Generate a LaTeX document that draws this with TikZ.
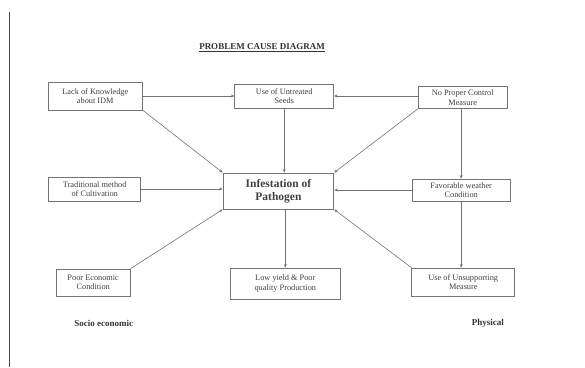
\documentclass[tikz,border=0pt]{standalone}
\usepackage{fontspec}
\setmainfont{Liberation Serif}
\usetikzlibrary{arrows.meta}
\begin{document}
\begin{tikzpicture}[x=1pt,y=-1pt,
  box/.style={draw=black!55, line width=0.7pt, align=center, text=black!75,
    font=\fontsize{8.3}{9.5}\selectfont, inner sep=0.5pt},
  conn/.style={draw=black!55, line width=0.6pt, -{Stealth[length=3.5pt,width=3pt]}},
  lbl/.style={font=\bfseries\fontsize{9}{10}\selectfont, text=black!80}]
\useasboundingbox[fill=white] (0,0) rectangle (585,367);
\draw[black!70, line width=1.8pt] (9.4,12) -- (9.4,367);
\node[lbl, font=\bfseries\fontsize{9}{10}\selectfont] (title) at (262,48) {\underline{PROBLEM CAUSE DIAGRAM}};
\node[box, minimum width=94.5pt, minimum height=28pt] (lack) at (95.3,96) {Lack of Knowledge\\about IDM};
\node[box, minimum width=99pt, minimum height=24pt] (seed) at (284.2,96) {Use of Untreated\\Seeds};
\node[box, minimum width=89pt, minimum height=22pt] (nopro) at (462.7,97.5) {No Proper Control\\Measure};
\node[box, minimum width=92pt, minimum height=24pt] (trad) at (94.7,189) {Traditional method\\of Cultivation};
\node[box, minimum width=110.7pt, minimum height=36pt, line width=0.9pt,
  font=\bfseries\fontsize{11.5}{13}\selectfont] (inf) at (278.4,191) {Infestation of\\Pathogen};
\node[box, minimum width=97.5pt, minimum height=22pt] (fav) at (461.2,190) {Favorable weather\\Condition};
\node[box, minimum width=74pt, minimum height=27pt] (poor) at (93.2,282.5) {Poor Economic\\Condition};
\node[box, minimum width=109.4pt, minimum height=31pt] (low) at (285.3,283.5) {Low yield \& Poor\\quality Production};
\node[box, minimum width=103pt, minimum height=28pt] (unsup) at (463.3,282) {Use of Unsupporting\\Measure};
\node[lbl] (socio) at (103.7,323) {Socio economic};
\node[lbl] (phys) at (487.8,323) {Physical};
\draw[conn] (lack.east) -- (seed.west);
\draw[conn] (nopro.west |- seed.east) -- (seed.east);
\draw[conn] (seed.south) -- (inf.north -| seed.south);
\draw[conn] (lack.south east) -- (inf.north west);
\draw[conn] (nopro.south west) -- (inf.north east);
\draw[conn] (trad.east) -- (inf.west |- trad.east);
\draw[conn] (fav.west) -- (inf.east |- fav.west);
\draw[conn] (poor.north east) -- (inf.south west);
\draw[conn] (unsup.north west) -- (inf.south east);
\draw[conn] (inf.south -| low.north) -- (low.north);
\draw[conn] (nopro.south -| fav.north) -- (fav.north);
\draw[conn] (fav.south) -- (unsup.north -| fav.south);
\end{tikzpicture}
\end{document}
